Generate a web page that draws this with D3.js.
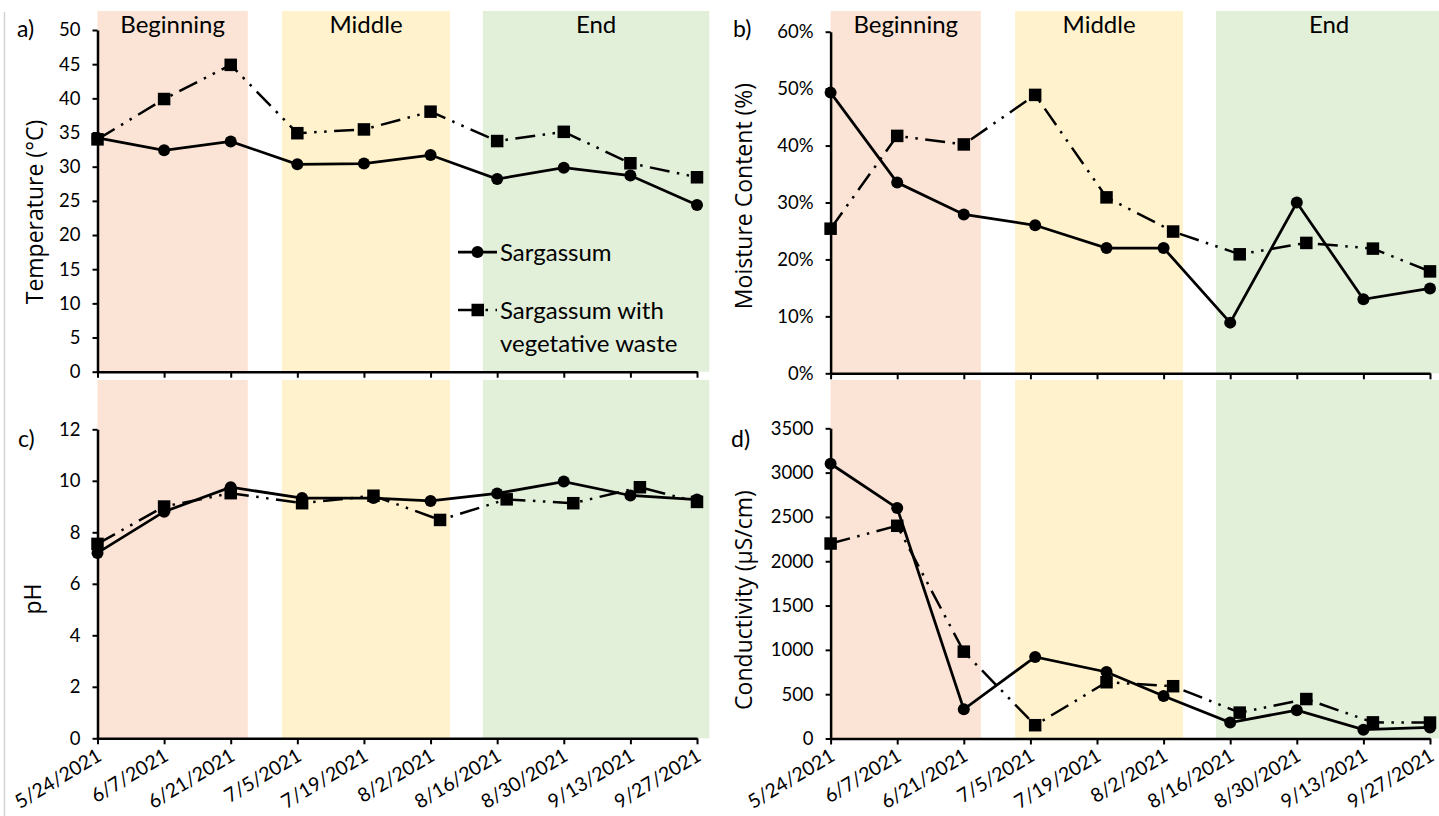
<!DOCTYPE html>
<html>
<head>
<meta charset="utf-8">
<script src="https://cdn.jsdelivr.net/npm/d3@7"></script>
<style>
    body { margin: 0; background: #fff; }
    svg text { fill: #000; }
</style>
</head>
<body>
<svg id="chart"></svg>
<script>
// x axis tick labels (every two weeks)
const tickDates = ["5/24/2021", "6/7/2021", "6/21/2021", "7/5/2021", "7/19/2021",
    "8/2/2021", "8/16/2021", "8/30/2021", "9/13/2021", "9/27/2021"];

// sampling dates (panels b-d are slightly off the ticks)
const sargDates = ["5/24/2021", "6/7/2021", "6/21/2021", "7/6/2021", "7/21/2021",
    "8/2/2021", "8/16/2021", "8/30/2021", "9/13/2021", "9/27/2021"];
const vegDates = ["5/24/2021", "6/7/2021", "6/21/2021", "7/6/2021", "7/21/2021",
    "8/4/2021", "8/18/2021", "9/1/2021", "9/15/2021", "9/27/2021"];

const seriesNames = ["Sargassum", "Sargassum with vegetative waste"];

// a) temperature
const tempSarg = [34.2, 32.4, 33.7, 30.35, 30.45, 31.7, 28.2, 29.85, 28.7, 24.4];
const tempVeg = [34.0, 39.9, 44.9, 34.9, 35.45, 38.05, 33.75, 35.1, 30.5, 28.45];
// b) moisture content (fraction)
const moistSarg = [0.493, 0.335, 0.279, 0.26, 0.22, 0.22, 0.089, 0.30, 0.13, 0.149];
const moistVeg = [0.254, 0.417, 0.402, 0.489, 0.309, 0.249, 0.209, 0.229, 0.219, 0.179];
// c) pH
const phSarg = [7.2, 8.8, 9.75, 9.33, 9.33, 9.22, 9.51, 9.97, 9.43, 9.27];
const phVeg = [7.55, 9.0, 9.52, 9.13, 9.42, 8.48, 9.28, 9.13, 9.75, 9.18];
// d) conductivity
const condSarg = [3100, 2600, 330, 920, 750, 480, 180, 320, 100, 125];
const condVeg = [2200, 2400, 980, 150, 635, 590, 292, 445, 182, 180];

// composting phases (background bands)
const phases = ["Beginning", "Middle", "End"];
const phaseStart = ["5/24/2021 0", "7/1/2021 19", "8/13/2021 0"];
const phaseEnd = ["6/24/2021 14", "8/6/2021 2", "9/29/2021 14"];
const phaseColors = ["#fbe4d5", "#fff2cc", "#e2efd9"];

const parseDay = d3.utcParse("%m/%d/%Y");
const parseHour = d3.utcParse("%m/%d/%Y %H");
const toDate = s => s.includes(" ") ? parseHour(s) : parseDay(s);

const tickFont = "Lato, 'Open Sans', sans-serif";
const titleFont = "'Open Sans', 'Noto Sans', sans-serif";

const svg = d3.select("#chart")
    .attr("width", 1439)
    .attr("height", 816);

// faint frame line on the left edge
svg.append("line")
    .attr("x1", 4.5).attr("x2", 4.5)
    .attr("y1", 12).attr("y2", 816)
    .attr("stroke", "#d4d4d4")
    .attr("stroke-width", 1.5);

const panels = [
    { label: "a)", lx: 17, ly: 37, x0: 97.5, x1: 697, y0: 371.7, y1: 30, bandTop: 11,
      domain: [0, 50], nTicks: 10, fmt: d3.format("d"), sarg: tempSarg, veg: tempVeg,
      sargX: tickDates, vegX: tickDates, title: "Temperature (°C)", tx: 35, ty: 212,
      dateLabels: false, bandText: true, legend: true },
    { label: "b)", lx: 733, ly: 37, x0: 830.6, x1: 1430, y0: 373.3, y1: 31.7, bandTop: 11,
      domain: [0, 0.6], nTicks: 6, fmt: d3.format(".0%"), sarg: moistSarg, veg: moistVeg,
      sargX: sargDates, vegX: vegDates, title: "Moisture Content (%)", tx: 744, ty: 196,
      dateLabels: false, bandText: true, legend: false },
    { label: "c)", lx: 18, ly: 447, x0: 97.5, x1: 697, y0: 738.3, y1: 429.3, bandTop: 380,
      domain: [0, 12], nTicks: 6, fmt: d3.format("d"), sarg: phSarg, veg: phVeg,
      sargX: sargDates, vegX: vegDates, title: "pH", tx: 33, ty: 599,
      dateLabels: true, bandText: false, legend: false },
    { label: "d)", lx: 731, ly: 447, x0: 830.6, x1: 1430, y0: 738.5, y1: 428.3, bandTop: 380,
      domain: [0, 3500], nTicks: 7, fmt: d3.format("d"), sarg: condSarg, veg: condVeg,
      sargX: sargDates, vegX: vegDates, title: "Conductivity (µS/cm)", tx: 744, ty: 600,
      dateLabels: true, bandText: false, legend: false }
];

const dashPattern = "20 7.5 2.5 7.5 2.5 7.5";

panels.forEach(p => {
    const x = d3.scaleUtc()
        .domain([toDate(tickDates[0]), toDate(tickDates[tickDates.length - 1])])
        .range([p.x0, p.x1]);
    const y = d3.scaleLinear().domain(p.domain).range([p.y0, p.y1]);

    const g = svg.append("g");

    // phase bands
    g.selectAll(".band")
        .data(phases)
        .enter()
        .append("rect")
        .attr("x", (d, i) => x(toDate(phaseStart[i])))
        .attr("width", (d, i) => x(toDate(phaseEnd[i])) - x(toDate(phaseStart[i])))
        .attr("y", p.bandTop)
        .attr("height", p.y0 - p.bandTop)
        .attr("fill", (d, i) => phaseColors[i]);

    if (p.bandText) {
        g.selectAll(".phase")
            .data(phases)
            .enter()
            .append("text")
            .attr("x", (d, i) => (x(toDate(phaseStart[i])) + x(toDate(phaseEnd[i]))) / 2)
            .attr("y", 33)
            .attr("text-anchor", "middle")
            .style("font-family", tickFont)
            .style("font-size", "24px")
            .text(d => d);
    }

    // y axis
    const yAxis = g.append("g")
        .attr("transform", `translate(${p.x0},0)`)
        .call(d3.axisLeft(y).ticks(p.nTicks).tickFormat(p.fmt).tickSize(5).tickSizeOuter(0).tickPadding(12));
    yAxis.select(".domain").attr("stroke", "#000").attr("stroke-width", 2.5);
    yAxis.selectAll(".tick line").attr("stroke", "#000").attr("stroke-width", 2);
    yAxis.selectAll(".tick text")
        .style("font-family", tickFont)
        .style("font-size", "18.5px");

    // x axis
    const xAxis = g.append("g")
        .attr("transform", `translate(0,${p.y0})`)
        .call(d3.axisBottom(x)
            .tickValues(tickDates.map(toDate))
            .tickFormat((d, i) => p.dateLabels ? tickDates[i] : "")
            .tickSize(6)
            .tickSizeOuter(0));
    xAxis.select(".domain").attr("stroke", "#000").attr("stroke-width", 2.5);
    xAxis.selectAll(".tick line").attr("stroke", "#000").attr("stroke-width", 2);
    xAxis.selectAll(".tick text")
        .attr("x", 0).attr("y", 0).attr("dy", 0)
        .attr("text-anchor", "end")
        .attr("transform", "translate(5,21) rotate(-31)")
        .style("font-family", tickFont)
        .style("font-size", "19.5px");

    // y title
    g.append("text")
        .attr("transform", `translate(${p.tx},${p.ty}) rotate(-90)`)
        .attr("text-anchor", "middle")
        .attr("dy", "0.35em")
        .style("font-family", titleFont)
        .style("font-size", "23px")
        .text(p.title);

    // panel label
    g.append("text")
        .attr("x", p.lx)
        .attr("y", p.ly)
        .style("font-family", tickFont)
        .style("font-size", "23px")
        .text(p.label);

    // Sargassum series
    const sargLine = d3.line()
        .x((d, i) => x(toDate(p.sargX[i])))
        .y(d => y(d));
    g.append("path")
        .datum(p.sarg)
        .attr("d", sargLine)
        .attr("fill", "none")
        .attr("stroke", "#000")
        .attr("stroke-width", 2.75);
    g.selectAll(".sarg")
        .data(p.sarg)
        .enter()
        .append("circle")
        .attr("cx", (d, i) => x(toDate(p.sargX[i])))
        .attr("cy", d => y(d))
        .attr("r", 6);

    // Sargassum with vegetative waste series
    const vegLine = d3.line()
        .x((d, i) => x(toDate(p.vegX[i])))
        .y(d => y(d));
    g.append("path")
        .datum(p.veg)
        .attr("d", vegLine)
        .attr("fill", "none")
        .attr("stroke", "#000")
        .attr("stroke-width", 2.5)
        .attr("stroke-dasharray", dashPattern);
    g.selectAll(".veg")
        .data(p.veg)
        .enter()
        .append("rect")
        .attr("x", (d, i) => x(toDate(p.vegX[i])) - 6.25)
        .attr("y", d => y(d) - 6.25)
        .attr("width", 12.5)
        .attr("height", 12.5);

    if (p.legend) {
        const lg = g.append("g");
        // row 1
        lg.append("line")
            .attr("x1", 458).attr("x2", 497)
            .attr("y1", 252).attr("y2", 252)
            .attr("stroke", "#000").attr("stroke-width", 2.75);
        lg.append("circle").attr("cx", 477.5).attr("cy", 252).attr("r", 6);
        lg.append("text")
            .attr("x", 500).attr("y", 252).attr("dy", "0.36em")
            .style("font-family", tickFont).style("font-size", "24px")
            .text(seriesNames[0]);
        // row 2
        lg.append("line")
            .attr("x1", 458).attr("x2", 497)
            .attr("y1", 310).attr("y2", 310)
            .attr("stroke", "#000").attr("stroke-width", 2.5)
            .attr("stroke-dasharray", dashPattern);
        lg.append("rect").attr("x", 471.5).attr("y", 303.75).attr("width", 12.5).attr("height", 12.5);
        lg.append("text")
            .attr("x", 500).attr("y", 310).attr("dy", "0.36em")
            .style("font-family", tickFont).style("font-size", "24px")
            .text("Sargassum with");
        lg.append("text")
            .attr("x", 500).attr("y", 343).attr("dy", "0.36em")
            .style("font-family", tickFont).style("font-size", "24px")
            .text("vegetative waste");
    }
});
</script>
</body>
</html>
